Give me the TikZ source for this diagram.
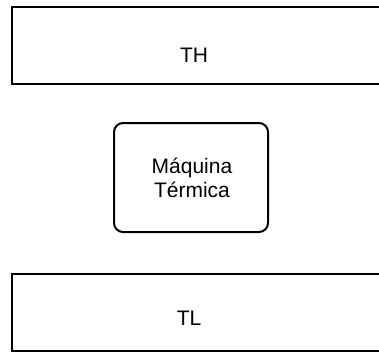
\documentclass[tikz,border=0pt]{standalone}
\usepackage{fontspec}
\setmainfont{Liberation Sans}
\begin{document}
\begin{tikzpicture}[x=1pt,y=-1pt,
  reservoir/.style={draw=black,line width=2pt},
  engine/.style={draw=black,line width=2pt,rounded corners=9pt},
  lbl/.style={font=\fontsize{21}{24}\selectfont,align=center,inner sep=0pt}]
\useasboundingbox (0,0) rectangle (379,353);
% hot reservoir (its right side runs off the page)
\draw[reservoir] (390,7) -- (12,7) -- (12,84) -- (390,84);
\node[lbl] (th) at (194,55) {TH};
% heat engine
\draw[engine] (114,123) rectangle (268,232);
\node[lbl] (engine) at (192,178) {Máquina\\Térmica};
% cold reservoir
\draw[reservoir] (390,274) -- (12,274) -- (12,351) -- (390,351);
\node[lbl] (tl) at (189,318) {TL};
\end{tikzpicture}
\end{document}
